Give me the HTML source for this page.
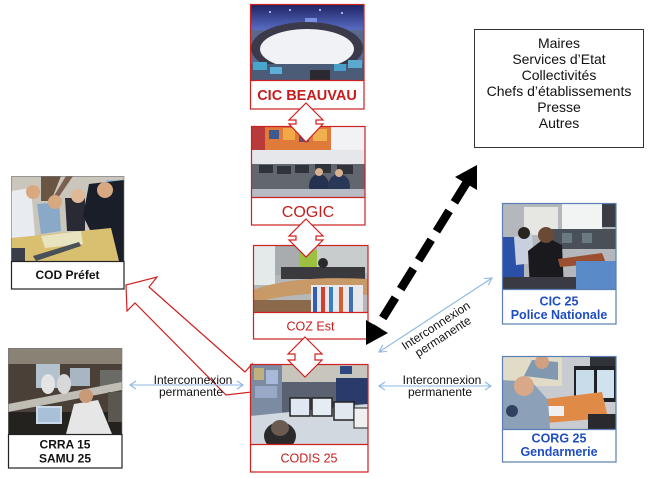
<!DOCTYPE html>
<html><head><meta charset="utf-8"><style>
html,body{margin:0;padding:0;background:#fff;}
svg{display:block;}
text{font-family:"Liberation Sans",Arial,sans-serif;}
</style></head><body>
<svg width="650" height="478" viewBox="0 0 650 478" xmlns="http://www.w3.org/2000/svg">
<defs>
 <clipPath id="cp1"><rect x="0" y="0" width="114" height="76"/></clipPath>
 <clipPath id="cp2"><rect x="0" y="0" width="114" height="71"/></clipPath>
 <clipPath id="cp3"><rect x="0" y="0" width="115" height="67"/></clipPath>
 <clipPath id="cp4"><rect x="0" y="0" width="118" height="80"/></clipPath>
 <clipPath id="cp5"><rect x="0" y="0" width="113" height="85"/></clipPath>
 <clipPath id="cp6"><rect x="0" y="0" width="114" height="86"/></clipPath>
 <clipPath id="cp7"><rect x="0" y="0" width="114" height="86"/></clipPath>
 <clipPath id="cp8"><rect x="0" y="0" width="114" height="73"/></clipPath>
 <linearGradient id="gb" x1="0" y1="0" x2="0" y2="1">
  <stop offset="0" stop-color="#1c2260"/><stop offset="1" stop-color="#5a6cc4"/>
 </linearGradient>
</defs>

<!-- Red hollow arrow CODIS -> COD Prefet (drawn first, tail under CODIS box) -->
<polygon points="126,285 157,277 149,287 245,372 252,364 252,392 226,395 135,303 127,311" fill="#fff" stroke="#d02020" stroke-width="1.2" stroke-linejoin="miter"/>

<!-- Top-right text box -->
<rect x="474.5" y="29.5" width="169" height="118" fill="#fff" stroke="#333" stroke-width="1"/>
<g font-size="14" fill="#111" text-anchor="middle">
 <text x="559" y="48">Maires</text>
 <text x="559" y="64">Services d’Etat</text>
 <text x="559" y="80">Collectivités</text>
 <text x="559" y="96">Chefs d’établissements</text>
 <text x="559" y="112">Presse</text>
 <text x="559" y="128">Autres</text>
</g>

<!-- CIC BEAUVAU -->
<g transform="translate(250,4)"><g clip-path="url(#cp1)">
 <rect width="114" height="76" fill="#5a6890"/>
 <rect width="114" height="26" fill="url(#gb)"/>
 <circle cx="20" cy="8" r="1" fill="#cfd8ff"/><circle cx="40" cy="6" r="1" fill="#cfd8ff"/><circle cx="70" cy="6" r="1" fill="#cfd8ff"/><circle cx="92" cy="9" r="1" fill="#cfd8ff"/>
 <rect x="55" y="14" width="12" height="6" fill="#7a90e0"/>
 <ellipse cx="57" cy="44" rx="56" ry="26" fill="#3a3a4a"/>
 <ellipse cx="57" cy="45" rx="47" ry="20" fill="#f1f2f5"/>
 <rect x="0" y="60" width="114" height="16" fill="#4a5c78"/>
 <rect x="3" y="58" width="14" height="8" fill="#48a6cc"/>
 <rect x="20" y="63" width="12" height="7" fill="#5ab0d6"/>
 <rect x="84" y="60" width="12" height="7" fill="#48a0c8"/>
 <rect x="98" y="56" width="14" height="8" fill="#5aaad0"/>
 <rect x="60" y="66" width="20" height="10" fill="#2a2a30"/>
</g></g>
<rect x="250.5" y="4.5" width="113.5" height="104.5" fill="none" stroke="#cc2222" stroke-width="1.2"/>
<line x1="250" y1="80.5" x2="364" y2="80.5" stroke="#cc2222" stroke-width="1.2"/>
<text x="307" y="100" font-size="14.5" font-weight="bold" fill="#c41e1e" text-anchor="middle">CIC BEAUVAU</text>

<!-- COGIC -->
<g transform="translate(251,126)"><g clip-path="url(#cp2)">
 <rect width="114" height="71" fill="#dcdde0"/>
 <rect x="0" y="0" width="80" height="24" fill="#e07a3a"/>
 <rect x="0" y="0" width="14" height="24" fill="#b83a3a"/>
 <rect x="18" y="4" width="10" height="9" fill="#3a5a90"/>
 <rect x="32" y="2" width="12" height="12" fill="#f0a848"/>
 <rect x="48" y="6" width="10" height="10" fill="#6a4a6a"/>
 <rect x="62" y="3" width="14" height="12" fill="#f0b050"/>
 <rect x="80" y="0" width="34" height="30" fill="#f2f2f4"/>
 <rect x="0" y="24" width="114" height="14" fill="#e6e7ea"/>
 <rect x="0" y="38" width="114" height="33" fill="#62666e"/>
 <rect x="8" y="39" width="14" height="8" fill="#30333a"/>
 <rect x="26" y="40" width="14" height="8" fill="#30333a"/>
 <rect x="44" y="39" width="14" height="8" fill="#30333a"/>
 <rect x="64" y="38" width="16" height="9" fill="#30333a"/>
 <rect x="86" y="39" width="16" height="9" fill="#30333a"/>
 <ellipse cx="68" cy="60" rx="10" ry="12" fill="#243250"/>
 <ellipse cx="88" cy="60" rx="11" ry="12" fill="#2a3858"/>
 <circle cx="68" cy="46" r="4" fill="#d8b090"/>
 <circle cx="88" cy="47" r="4" fill="#d8b090"/>
 <rect x="0" y="63" width="114" height="8" fill="#b8bcc4"/>
</g></g>
<rect x="251.5" y="126.5" width="113.5" height="98.5" fill="none" stroke="#cc2222" stroke-width="1.2"/>
<line x1="251" y1="197.5" x2="365" y2="197.5" stroke="#cc2222" stroke-width="1.2"/>
<text x="308" y="217" font-size="16" fill="#c41e1e" text-anchor="middle">COGIC</text>

<!-- COZ Est -->
<g transform="translate(253,245)"><g clip-path="url(#cp3)">
 <rect width="115" height="67" fill="#b4b8b8"/>
 <rect x="0" y="0" width="22" height="40" fill="#e4eaea"/>
 <rect x="22" y="0" width="24" height="30" fill="#a8acae"/>
 <rect x="46" y="5" width="18" height="25" fill="#9cc040"/>
 <rect x="64" y="0" width="51" height="28" fill="#c8cccc"/>
 <rect x="28" y="22" width="84" height="12" fill="#3a3a3e"/>
 <circle cx="70" cy="18" r="5" fill="#2a2a2e"/>
 <path d="M0,45 Q40,30 115,34 L115,50 Q50,44 0,58 Z" fill="#c89a68"/>
 <rect x="0" y="55" width="60" height="12" fill="#8a6a4a"/>
 <rect x="58" y="40" width="52" height="27" fill="#e8e8ec"/>
 <rect x="60" y="42" width="4" height="25" fill="#3060b0"/>
 <rect x="68" y="42" width="4" height="25" fill="#d04030"/>
 <rect x="76" y="42" width="4" height="25" fill="#3a80c0"/>
 <rect x="86" y="42" width="4" height="25" fill="#d06030"/>
 <rect x="96" y="42" width="4" height="25" fill="#4070b0"/>
</g></g>
<rect x="253.5" y="245.5" width="114.5" height="93.5" fill="none" stroke="#cc2222" stroke-width="1.2"/>
<line x1="253" y1="312.5" x2="368" y2="312.5" stroke="#cc2222" stroke-width="1.2"/>
<text x="310.5" y="330.5" font-size="12.5" fill="#c41e1e" text-anchor="middle">COZ Est</text>

<!-- CODIS 25 -->
<g transform="translate(250,364)"><g clip-path="url(#cp4)">
 <rect width="118" height="80" fill="#5a6272"/>
 <rect x="20" y="0" width="98" height="18" fill="#c8c6bc"/>
 <rect x="0" y="0" width="32" height="52" fill="#7c8aa2"/>
 <rect x="4" y="4" width="10" height="12" fill="#c0b080"/>
 <rect x="16" y="6" width="12" height="14" fill="#a8b8d8"/>
 <rect x="5" y="22" width="22" height="12" fill="#9aa8c8"/>
 <rect x="86" y="14" width="32" height="26" fill="#2a3a6a"/>
 <rect x="90" y="2" width="12" height="8" fill="#304880"/>
 <polygon points="0,52 118,40 118,80 0,80" fill="#d2d8e0"/>
 <rect x="40" y="34" width="20" height="18" fill="#dfe8f2" stroke="#222" stroke-width="1.5"/>
 <rect x="62" y="34" width="20" height="18" fill="#e6ecf4" stroke="#222" stroke-width="1.5"/>
 <rect x="84" y="38" width="20" height="18" fill="#e2e8f0" stroke="#222" stroke-width="1.5"/>
 <rect x="104" y="44" width="14" height="20" fill="#f0f0f0" stroke="#222" stroke-width="1"/>
 <ellipse cx="30" cy="72" rx="16" ry="14" fill="#2a2a2a"/>
 <ellipse cx="30" cy="64" rx="9" ry="8" fill="#6a5a50"/>
</g></g>
<rect x="250.5" y="364.5" width="117.5" height="107.5" fill="none" stroke="#cc2222" stroke-width="1.2"/>
<line x1="250" y1="444.5" x2="368" y2="444.5" stroke="#cc2222" stroke-width="1.2"/>
<text x="309" y="462.5" font-size="12.5" fill="#c41e1e" text-anchor="middle">CODIS 25</text>

<!-- COD Prefet -->
<g transform="translate(11,176)"><g clip-path="url(#cp5)">
 <rect width="113" height="85" fill="#cac6bc"/>
 <polygon points="30,0 50,0 40,25 30,25" fill="#6a5444"/>
 <polygon points="55,0 62,0 45,25 40,25" fill="#7a6050"/>
 <rect x="95" y="4" width="18" height="22" fill="#a0b8d8"/>
 <polygon points="0,15 20,12 24,60 0,70" fill="#e8ecf0"/>
 <circle cx="22" cy="16" r="7" fill="#d8a880"/>
 <polygon points="26,28 48,26 50,55 30,58" fill="#8aa8c8"/>
 <circle cx="44" cy="26" r="7" fill="#d8a880"/>
 <polygon points="54,22 74,22 74,55 56,55" fill="#2a2a34"/>
 <circle cx="67" cy="20" r="7" fill="#e0b898"/>
 <polygon points="78,8 113,4 113,85 90,85 82,60 72,40" fill="#1a1e28"/>
 <circle cx="94" cy="14" r="8" fill="#d8a880"/>
 <polygon points="0,62 100,52 108,85 0,85" fill="#d8c070"/>
 <polygon points="30,60 70,55 72,68 34,72" fill="#e8e4c0"/>
 <polygon points="22,80 68,66 70,70 25,85" fill="#4a5058"/>
 <rect x="0" y="72" width="14" height="13" fill="#3a3e48"/>
</g></g>
<rect x="11.5" y="176.5" width="112.5" height="112.5" fill="none" stroke="#777" stroke-width="0.6"/>
<rect x="11.5" y="261.5" width="112.5" height="27.5" fill="#fff" stroke="#222" stroke-width="1.2"/>
<text x="67.5" y="279" font-size="12" font-weight="bold" fill="#111" text-anchor="middle">COD Préfet</text>

<!-- CRRA 15 -->
<g transform="translate(8,348)"><g clip-path="url(#cp6)">
 <rect width="114" height="86" fill="#4a4038"/>
 <rect x="0" y="0" width="114" height="16" fill="#8a8274"/>
 <rect x="28" y="16" width="24" height="24" fill="#b4c2d0"/>
 <rect x="62" y="20" width="20" height="18" fill="#a8b6c4"/>
 <rect x="92" y="22" width="22" height="16" fill="#6a6a66"/>
 <polygon points="0,56 114,34 114,42 0,64" fill="#c0beb4"/>
 <ellipse cx="40" cy="36" rx="7" ry="10" fill="#e4e4e4"/>
 <ellipse cx="56" cy="36" rx="7" ry="10" fill="#d8d8d8"/>
 <rect x="0" y="64" width="114" height="22" fill="#24221f"/>
 <rect x="28" y="58" width="26" height="18" fill="#c8d8e8"/>
 <rect x="30" y="60" width="22" height="14" fill="#a8c0d8"/>
 <polygon points="58,86 66,56 90,52 104,86" fill="#e6e6e6"/>
 <circle cx="78" cy="48" r="7" fill="#c89a78"/>
 <rect x="100" y="44" width="14" height="30" fill="#5a5650"/>
</g></g>
<rect x="8.5" y="348.5" width="113.5" height="119.5" fill="none" stroke="#777" stroke-width="0.6"/>
<rect x="8.5" y="434.5" width="113.5" height="33.5" fill="#fff" stroke="#222" stroke-width="1.2"/>
<text x="65" y="448.5" font-size="12" font-weight="bold" fill="#111" text-anchor="middle">CRRA 15</text>
<text x="65" y="462.5" font-size="12" font-weight="bold" fill="#111" text-anchor="middle">SAMU 25</text>

<!-- CIC 25 -->
<g transform="translate(502,203)"><g clip-path="url(#cp7)">
 <rect width="114" height="86" fill="#b4b8bc"/>
 <rect x="22" y="4" width="34" height="28" fill="#e6e6e2"/>
 <rect x="60" y="0" width="40" height="30" fill="#f2f4f4"/>
 <rect x="100" y="0" width="14" height="24" fill="#3a3e44"/>
 <rect x="44" y="26" width="70" height="20" fill="#4a5058"/>
 <rect x="60" y="30" width="10" height="10" fill="#6a7a80"/>
 <rect x="80" y="30" width="10" height="10" fill="#6a7a80"/>
 <rect x="0" y="34" width="22" height="52" fill="#2a50a8"/>
 <polygon points="12,34 30,30 32,60 14,62" fill="#c8d0e0"/>
 <circle cx="22" cy="30" r="6" fill="#2a2420"/>
 <polygon points="26,48 44,34 60,42 62,86 28,86" fill="#1a1a1e"/>
 <circle cx="44" cy="32" r="8" fill="#6a4a34"/>
 <polygon points="56,56 100,50 104,60 58,64" fill="#9a5030"/>
 <rect x="74" y="58" width="40" height="28" fill="#5a8ac8"/>
 <rect x="0" y="74" width="74" height="12" fill="#3a3a42"/>
</g></g>
<rect x="502.5" y="203.5" width="113.5" height="120.5" fill="none" stroke="#5b7fb5" stroke-width="1.2"/>
<line x1="502" y1="289.5" x2="616" y2="289.5" stroke="#5b7fb5" stroke-width="1.2"/>
<text x="559" y="305.5" font-size="12.5" font-weight="bold" fill="#1f4ec4" text-anchor="middle">CIC 25</text>
<text x="559" y="319" font-size="12.5" font-weight="bold" fill="#1f4ec4" text-anchor="middle">Police Nationale</text>

<!-- CORG 25 -->
<g transform="translate(502,356)"><g clip-path="url(#cp8)">
 <rect width="114" height="73" fill="#c8ccd0"/>
 <rect x="0" y="0" width="60" height="30" fill="#e0dcc8"/>
 <polygon points="22,20 30,4 56,6 56,24" fill="#8098b0"/>
 <circle cx="40" cy="6" r="7" fill="#d0a080"/>
 <rect x="72" y="10" width="42" height="36" fill="#1e2226"/>
 <rect x="74" y="14" width="18" height="28" fill="#c8dcea"/>
 <rect x="95" y="14" width="17" height="28" fill="#d0e2ee"/>
 <rect x="88" y="0" width="26" height="10" fill="#30343a"/>
 <polygon points="20,46 100,36 106,62 30,68" fill="#e08a48"/>
 <rect x="42" y="50" width="20" height="10" fill="#f0f0f0"/>
 <polygon points="0,24 30,26 46,44 48,73 0,73" fill="#8ca0b8"/>
 <circle cx="22" cy="30" r="10" fill="#d8a888"/>
 <circle cx="10" cy="55" r="6" fill="#304060"/>
 <rect x="86" y="58" width="28" height="15" fill="#2a2a2e"/>
</g></g>
<rect x="502.5" y="356.5" width="113.5" height="105.5" fill="none" stroke="#5b7fb5" stroke-width="1.2"/>
<line x1="502" y1="429.5" x2="616" y2="429.5" stroke="#5b7fb5" stroke-width="1.2"/>
<text x="559" y="442.5" font-size="12.5" font-weight="bold" fill="#1f4ec4" text-anchor="middle">CORG 25</text>
<text x="559" y="456" font-size="12.5" font-weight="bold" fill="#1f4ec4" text-anchor="middle">Gendarmerie</text>

<!-- Red vertical double arrows -->
<polygon points="306,103 323,120 316,120 316,124 323,124 306,142 289,124 296,124 296,120 289,120" fill="#fff" stroke="#d02020" stroke-width="1.2"/>
<polygon points="306,219 323,236 316,236 316,240 323,240 306,257 289,240 296,240 296,236 289,236" fill="#fff" stroke="#d02020" stroke-width="1.2"/>
<polygon points="305,337 322,354 315,354 315,360 322,360 305,377 288,360 295,360 295,354 288,354" fill="#fff" stroke="#d02020" stroke-width="1.2"/>

<!-- Black dashed double arrow -->
<line x1="467" y1="182" x2="376" y2="329" stroke="#000" stroke-width="8.5" stroke-dasharray="24 10"/>
<polygon points="477,165 477,190 455,177" fill="#000"/>
<polygon points="366,345 366,320 388,333" fill="#000"/>

<!-- Blue thin double arrows -->
<g stroke="#8fb8e2" stroke-width="1.1" fill="none">
 <line x1="130" y1="385" x2="243" y2="385"/>
 <polyline points="136,381 130,385 136,389"/>
 <polyline points="237,381 243,385 237,389"/>
 <line x1="379" y1="386" x2="491" y2="386"/>
 <polyline points="385,382 379,386 385,390"/>
 <polyline points="485,382 491,386 485,390"/>
 <line x1="379" y1="352" x2="492" y2="278"/>
 <polyline points="387,351.5 379,352 382.7,344.9"/>
 <polyline points="483.9,278.5 492,278 488.3,285.1"/>
</g>

<!-- Interconnexion labels -->
<g font-size="12" fill="#111" text-anchor="middle">
 <text x="193" y="384">Interconnexion</text>
 <text x="191" y="396">permanente</text>
 <text x="442" y="384">Interconnexion</text>
 <text x="440" y="396">permanente</text>
 <g transform="translate(438,329) rotate(-33)">
  <text x="0" y="0">Interconnexion</text>
  <text x="0" y="13">permanente</text>
 </g>
</g>
</svg>
</body></html>
